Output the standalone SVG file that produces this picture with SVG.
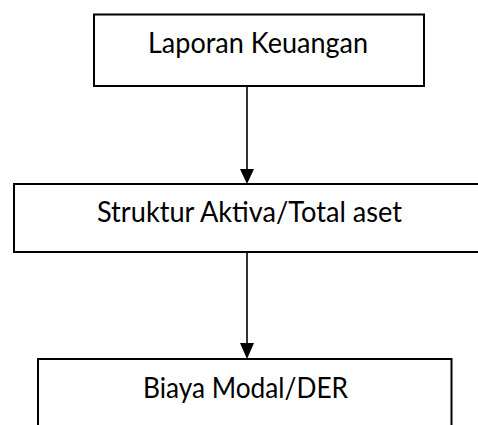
<svg xmlns="http://www.w3.org/2000/svg" width="478" height="425" viewBox="0 0 478 425">
<defs>
<style>
.box{fill:#fff;stroke:#000;stroke-width:2}
.lbl{font-family:Lato,"Liberation Sans",sans-serif;font-size:28px;fill:#000;text-anchor:middle}
.conn{stroke:#000;stroke-width:1.6;fill:none}
.head{fill:#000}
</style>
</defs>
<rect width="478" height="425" fill="#fff"/>
<g id="node-laporan">
<rect class="box" x="94" y="14.5" width="330" height="71.5"/>
<text class="lbl" x="258" y="53" textLength="220" lengthAdjust="spacingAndGlyphs">Laporan Keuangan</text>
</g>
<g id="node-struktur">
<rect class="box" x="14" y="184" width="480" height="68"/>
<text class="lbl" x="249.5" y="222" textLength="305" lengthAdjust="spacingAndGlyphs">Struktur Aktiva/Total aset</text>
</g>
<g id="node-biaya">
<rect class="box" x="38" y="359" width="413.5" height="80"/>
<text class="lbl" x="245.5" y="398" textLength="205" lengthAdjust="spacingAndGlyphs">Biaya Modal/DER</text>
</g>
<g id="connectors">
<line class="conn" x1="247" y1="86" x2="247" y2="170"/>
<polygon class="head" points="240,169 254,169 247,184"/>
<line class="conn" x1="247" y1="252" x2="247" y2="344"/>
<polygon class="head" points="240,343 254,343 247,359"/>
</g>
</svg>
